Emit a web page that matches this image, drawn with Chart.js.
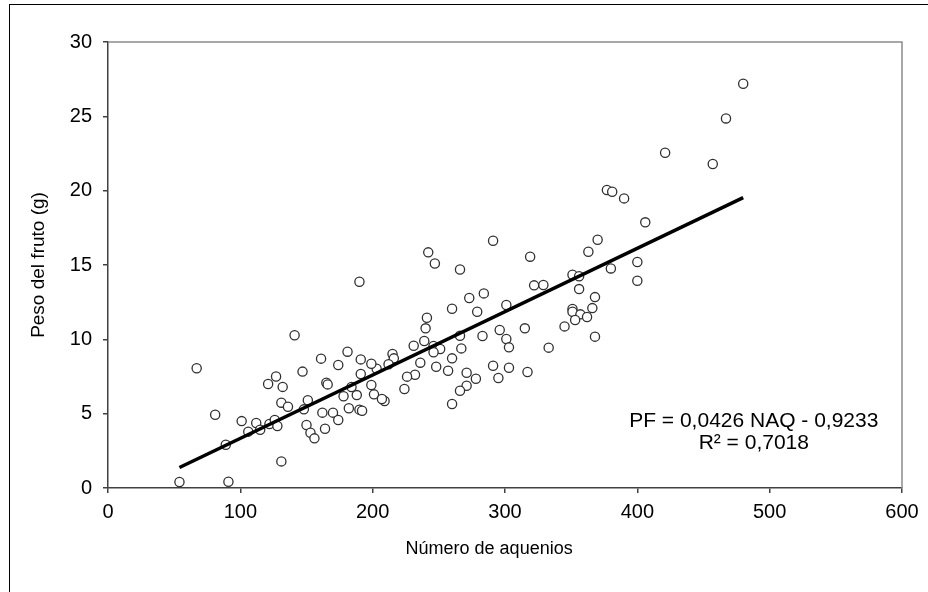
<!DOCTYPE html>
<html>
<head>
<meta charset="utf-8">
<script src="https://cdn.jsdelivr.net/npm/chart.js@4.4.1/dist/chart.umd.min.js"></script>
<style>
  body { margin: 0; background: #fff; }
  #frame { position: absolute; left: 9px; top: 4px; right: 0; bottom: 0; border-left: 1.5px solid #000; border-top: 1.5px solid #000; }
  #chart { position: absolute; left: 0; top: 0; }
</style>
</head>
<body>
<div id="frame"></div>
<canvas id="chart" width="928" height="592"></canvas>
<script>
// Número de aquenios (x) vs Peso del fruto (g) (y)
const aquenios = [
  67, 141, 147, 81, 121, 127, 132, 131, 136, 101, 112, 106, 115, 122, 126, 128, 89, 131, 54, 91,
  242, 247, 266, 190, 273, 260, 279, 241, 240, 239, 231, 246, 251, 246, 266, 267, 260, 248, 257, 271,
  278, 271, 266, 260, 236, 232, 226, 224, 215, 216, 212, 203, 199, 191, 181, 174, 161, 191, 165, 166,
  199, 184, 178, 188, 201, 209, 207, 182, 190, 192, 170, 162, 151, 148,
  377, 381, 390, 406, 291, 319, 370, 363, 400, 380, 400, 351, 356, 356, 322, 329, 368, 366, 351, 351,
  357, 362, 353, 368, 345, 333, 315, 301, 284, 296, 301, 303, 283, 291, 303, 317, 295,
  480, 467, 421, 457,
  150, 153, 156, 174, 164
];
const pesoFruto = [
  8.05, 10.27, 7.83, 4.93, 7.0, 7.5, 6.8, 5.74, 5.47, 4.5, 4.37, 3.79, 3.92, 4.3, 4.57, 4.17, 2.91, 1.79, 0.4, 0.42,
  15.85, 15.1, 14.7, 13.87, 12.78, 12.06, 11.86, 11.45, 10.74, 9.89, 9.57, 9.55, 9.35, 9.13, 10.24, 9.39, 8.72, 8.16, 7.89, 7.75,
  7.35, 6.88, 6.54, 5.65, 8.43, 7.62, 7.49, 6.66, 9.01, 8.72, 8.32, 8.02, 8.36, 8.65, 9.17, 8.27, 8.7, 7.67, 7.08, 6.97,
  6.93, 6.79, 6.17, 6.25, 6.3, 5.85, 5.99, 5.36, 5.27, 5.2, 5.07, 5.07, 5.9, 5.29,
  20.04, 19.93, 19.48, 17.87, 16.63, 15.56, 16.7, 15.89, 15.2, 14.77, 13.94, 14.35, 14.24, 13.38, 13.63, 13.65, 12.84, 12.1, 12.04, 11.86,
  11.68, 11.5, 11.3, 10.18, 10.87, 9.44, 10.74, 12.31, 13.09, 10.63, 10.02, 9.46, 10.22, 8.22, 8.09, 7.8, 7.4,
  27.19, 24.86, 22.55, 21.79,
  4.24, 3.72, 3.34, 4.57, 3.99
];
// línea de tendencia (extremos)
const trendX = [54, 480];
const trendY = [1.38, 19.53];

const xTicks = [0, 100, 200, 300, 400, 500, 600];
const yTicks = [0, 5, 10, 15, 20, 25, 30];
const xTitle = 'Número de aquenios';
const eqLines = ['PF = 0,0426 NAQ - 0,9233', 'R² = 0,7018'];

const font = 'Liberation Sans, Arial, sans-serif';

const plotFrame = {
  id: 'plotFrame',
  afterDraw(chart) {
    const {ctx, chartArea: a} = chart;
    const xs = chart.scales.x, ys = chart.scales.y;
    ctx.save();
    ctx.strokeStyle = '#8c8c8c';
    ctx.lineWidth = 1.5;
    ctx.beginPath();
    ctx.moveTo(a.left, a.top);
    ctx.lineTo(a.right, a.top);
    ctx.lineTo(a.right, a.bottom);
    ctx.stroke();
    ctx.fillStyle = '#000';
    ctx.textAlign = 'center';
    ctx.textBaseline = 'middle';
    // ecuación de la regresión
    ctx.font = '21px ' + font;
    const cx = xs.getPixelForValue(488);
    ctx.fillText(eqLines[0], cx, ys.getPixelForValue(4.48));
    ctx.fillText(eqLines[1], cx, ys.getPixelForValue(3.0));
    // título del eje x (algo a la izquierda del centro, como en el original)
    ctx.font = '18px ' + font;
    ctx.fillText(xTitle, xs.getPixelForValue(288), 549);
    ctx.restore();
  }
};

new Chart(document.getElementById('chart'), {
  type: 'scatter',
  data: {
    datasets: [
      {
        data: aquenios.map((x, i) => ({x: x, y: pesoFruto[i]})),
        pointStyle: 'circle',
        pointRadius: 4.6,
        pointBorderWidth: 1.3,
        pointBorderColor: '#303030',
        pointBackgroundColor: '#fff',
        showLine: false,
        order: 2
      },
      {
        data: trendX.map((x, i) => ({x: x, y: trendY[i]})),
        showLine: true,
        borderColor: '#000',
        borderWidth: 3.5,
        pointRadius: 0,
        order: 1
      }
    ]
  },
  options: {
    responsive: false,
    animation: false,
    devicePixelRatio: 1,
    layout: { padding: { top: 42, right: 26, left: 0, bottom: 0 } },
    plugins: { legend: { display: false }, tooltip: { enabled: false } },
    scales: {
      x: {
        type: 'linear',
        min: 0, max: 600,
        afterFit: s => { s.height = 104; },
        afterBuildTicks: s => { s.ticks = xTicks.map(v => ({value: v})); },
        grid: { drawOnChartArea: false, drawTicks: true, tickLength: 5, color: '#404040', lineWidth: 1.5 },
        border: { color: '#404040', width: 1.5 },
        ticks: { color: '#000', padding: 7, font: { family: font, size: 20 } },
        title: { display: false }
      },
      y: {
        type: 'linear',
        min: 0, max: 30,
        afterFit: s => { s.width = 108; },
        afterBuildTicks: s => { s.ticks = yTicks.map(v => ({value: v})); },
        grid: { drawOnChartArea: false, drawTicks: true, tickLength: 5, color: '#404040', lineWidth: 1.5 },
        border: { color: '#404040', width: 1.5 },
        ticks: { color: '#000', padding: 11, font: { family: font, size: 20 } },
        title: { display: true, text: 'Peso del fruto (g)', color: '#000', font: { family: font, size: 19 }, padding: { top: 27, bottom: 0 } }
      }
    }
  },
  plugins: [plotFrame]
});
</script>
</body>
</html>
